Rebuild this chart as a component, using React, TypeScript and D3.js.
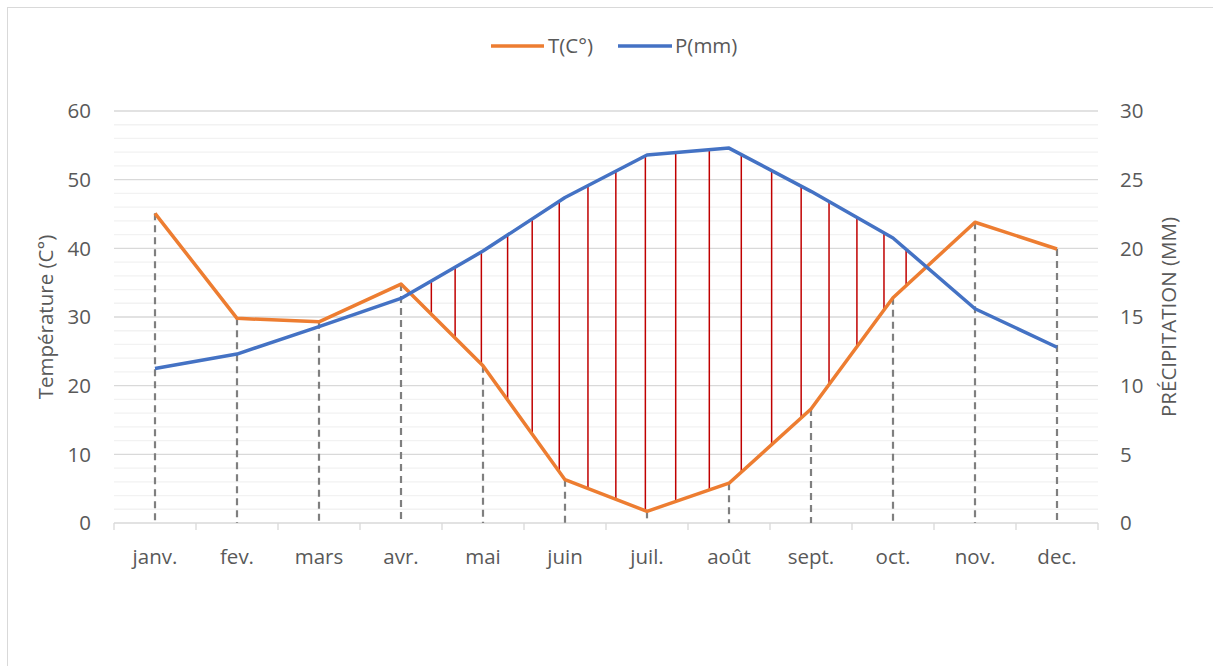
import React from "react";
import * as d3 from "d3";

const months = ["janv.", "fev.", "mars", "avr.", "mai", "juin", "juil.", "août", "sept.", "oct.", "nov.", "dec."];
const temperature = [45.1, 29.8, 29.3, 34.8, 22.9, 6.3, 1.7, 5.8, 16.6, 32.8, 43.8, 39.9];
const precipitation = [11.25, 12.3, 14.3, 16.35, 19.8, 23.7, 26.8, 27.3, 24.15, 20.75, 15.6, 12.8];
const leftTicks = [0, 10, 20, 30, 40, 50, 60];
const rightTicks = [0, 5, 10, 15, 20, 25, 30];
// hand-drawn hatch strokes, as fractional month positions
const hatchAt = [3.37, 3.66, 3.98, 4.3, 4.6, 4.93, 5.28, 5.62, 5.98, 6.35, 6.76, 7.15, 7.52, 7.88, 8.22, 8.56, 8.89, 9.16];

const W = 1213;
const H = 666;
const margin = { top: 111, left: 114, right: 115, bottom: 143 };
const font = "'Open Sans', 'Liberation Sans', sans-serif";
const textColor = "#595959";
const fs = 20.5;

export default function App() {
  const plotW = W - margin.left - margin.right;
  const bottom = H - margin.bottom;

  const x = d3.scaleBand().domain(months).range([margin.left, margin.left + plotW]);
  const cx = (i: number) => (x(months[i]) as number) + x.bandwidth() / 2;
  const xi = d3.scaleLinear().domain([0, months.length - 1]).range([cx(0), cx(months.length - 1)]);
  const yT = d3.scaleLinear().domain([0, 60]).range([bottom, margin.top]);
  const yP = d3.scaleLinear().domain([0, 30]).range([bottom, margin.top]);

  const lineT = d3.line<number>().x((_, i) => cx(i)).y(d => yT(d));
  const lineP = d3.line<number>().x((_, i) => cx(i)).y(d => yP(d));

  const interp = (arr: number[], f: number) => {
    const i = Math.min(Math.floor(f), arr.length - 2);
    return d3.interpolateNumber(arr[i], arr[i + 1])(f - i);
  };

  const minor = d3.range(0, 61, 2).filter(v => v % 10 !== 0);
  const edges = d3.range(months.length + 1).map(i => margin.left + i * x.step());

  return (
    <svg width={W} height={H} style={{ position: "absolute", left: 0, top: 0, background: "#fff" }} fontFamily={font}>
      <rect x={7.5} y={7.5} width={W + 20} height={H + 20} fill="#fff" stroke="#d9d9d9" strokeWidth={1} />

      {/* gridlines */}
      {minor.map(v => (
        <line key={"m" + v} x1={margin.left} x2={margin.left + plotW} y1={yT(v)} y2={yT(v)} stroke="#f2f2f2" strokeWidth={1.3} />
      ))}
      {leftTicks.map(v => (
        <line key={"g" + v} x1={margin.left} x2={margin.left + plotW} y1={yT(v)} y2={yT(v)} stroke="#d9d9d9" strokeWidth={1.3} />
      ))}
      {edges.map((e, i) => (
        <line key={"t" + i} x1={e} x2={e} y1={bottom} y2={bottom + 7} stroke="#d9d9d9" strokeWidth={1.3} />
      ))}

      {/* drop lines */}
      {temperature.map((t, i) => (
        <line key={"d" + i} x1={cx(i)} x2={cx(i)} y1={yT(t)} y2={bottom} stroke="#7f7f7f" strokeWidth={2.2} strokeDasharray="7 5" />
      ))}

      {/* hatching between curves */}
      {hatchAt.map((f, i) => (
        <line key={"h" + i} x1={xi(f)} x2={xi(f)} y1={yT(interp(temperature, f))} y2={yP(interp(precipitation, f))} stroke="#c00000" strokeWidth={1.5} />
      ))}

      <path d={lineT(temperature) as string} fill="none" stroke="#ed7d31" strokeWidth={3.5} strokeLinejoin="round" />
      <path d={lineP(precipitation) as string} fill="none" stroke="#4472c4" strokeWidth={3.5} strokeLinejoin="round" />

      {/* axes labels */}
      {leftTicks.map(v => (
        <text key={"l" + v} x={91} y={yT(v)} dy="0.36em" textAnchor="end" fontSize={fs} fill={textColor}>{v}</text>
      ))}
      {rightTicks.map(v => (
        <text key={"r" + v} x={1120} y={yP(v)} dy="0.36em" textAnchor="start" fontSize={fs} fill={textColor}>{v}</text>
      ))}
      {months.map((m, i) => (
        <text key={m} x={cx(i)} y={bottom + 41} textAnchor="middle" fontSize={fs} fill={textColor}>{m}</text>
      ))}

      <text transform={`translate(53,${(margin.top + bottom) / 2}) rotate(-90)`} textAnchor="middle" fontSize={fs} fill={textColor}>Température (C°)</text>
      <text transform={`translate(1176,${(margin.top + bottom) / 2}) rotate(-90)`} textAnchor="middle" fontSize={fs} fill={textColor}>PRÉCIPITATION (MM)</text>

      {/* legend */}
      <line x1={491} x2={544} y1={46} y2={46} stroke="#ed7d31" strokeWidth={3.5} />
      <text x={548} y={46} dy="0.36em" fontSize={fs} fill={textColor}>T(C°)</text>
      <line x1={618} x2={672} y1={46} y2={46} stroke="#4472c4" strokeWidth={3.5} />
      <text x={675} y={46} dy="0.36em" fontSize={fs} fill={textColor}>P(mm)</text>
    </svg>
  );
}
